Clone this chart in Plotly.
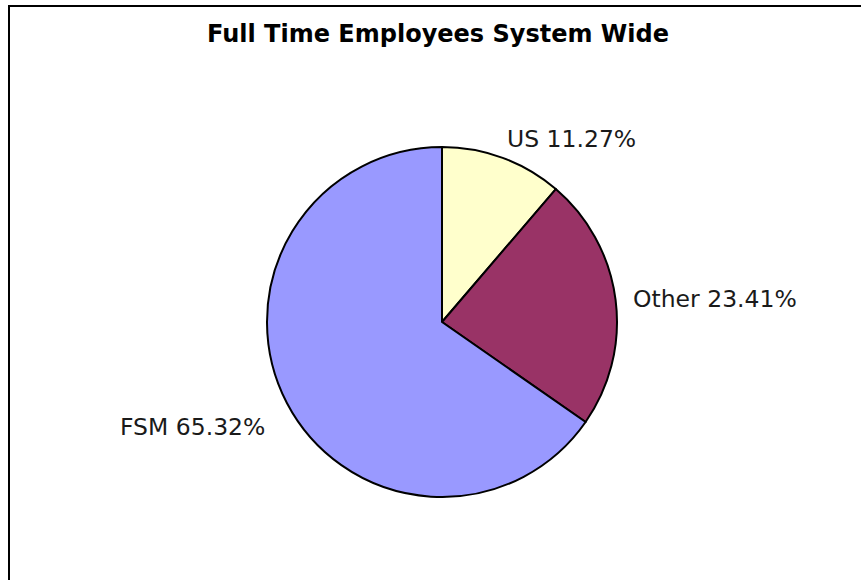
import plotly.graph_objects as go

labels = ["US", "Other", "FSM"]
values = [11.27, 23.41, 65.32]
colors = ["#FFFFCC", "#993366", "#9999FF"]
title = "Full Time Employees System Wide"

W, H = 861, 580
cx, cy, r = 442, 322, 175

fig = go.Figure(go.Pie(
    labels=labels, values=values, sort=False, direction="clockwise", rotation=0,
    marker=dict(colors=colors, line=dict(color="black", width=2)),
    textinfo="none", hoverinfo="label+percent", showlegend=False,
    domain=dict(x=[(cx - r) / W, (cx + r) / W], y=[1 - (cy + r) / H, 1 - (cy - r) / H]),
))

label_pos = [(571, 139), (715, 299), (192, 427)]
for lab, val, (x, y) in zip(labels, values, label_pos):
    fig.add_annotation(x=x / W, y=1 - y / H, xref="paper", yref="paper",
                       xanchor="center", yanchor="middle",
                       text=f"{lab} {val:.2f}%", showarrow=False,
                       font=dict(family="DejaVu Sans", size=23.5, color="#1a1a1a"))

fig.add_annotation(x=438 / W, y=1 - 34 / H, xref="paper", yref="paper",
                   xanchor="center", yanchor="middle",
                   text=f"<b>{title}</b>", showarrow=False,
                   font=dict(family="DejaVu Sans", size=24, color="black"))

fig.add_shape(type="rect", xref="paper", yref="paper",
              x0=9 / W, y0=-0.1, x1=1.1, y1=1 - 6 / H,
              line=dict(color="black", width=2))

fig.update_layout(width=W, height=H, margin=dict(l=0, r=0, t=0, b=0),
                  paper_bgcolor="white", plot_bgcolor="white")
fig.write_html("out.html")
